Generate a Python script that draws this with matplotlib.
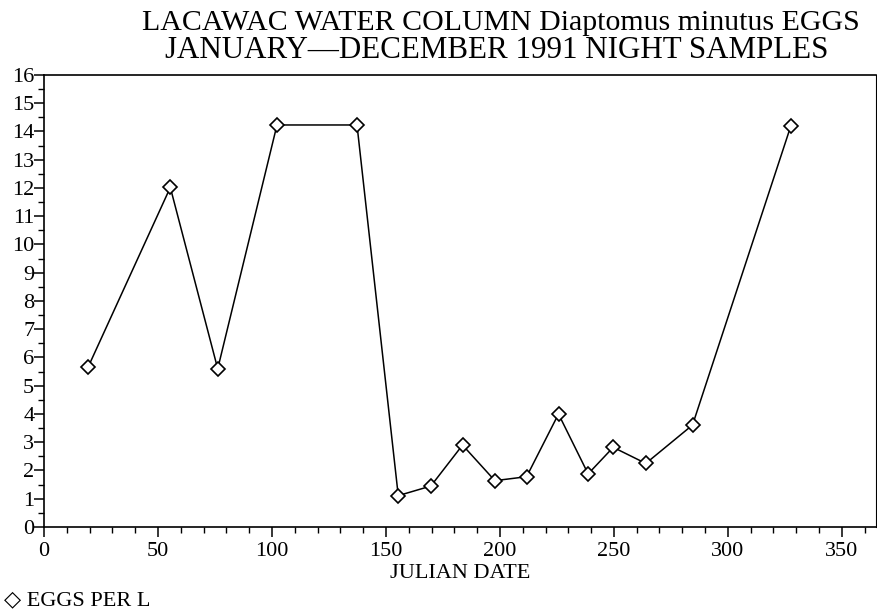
import matplotlib
matplotlib.use("Agg")
import matplotlib.pyplot as plt
from matplotlib.ticker import MultipleLocator

# Data
julian_date = [19.4, 55.4, 76.2, 102.2, 137.3, 155.4, 169.7, 183.6, 197.8,
               211.7, 225.7, 238.7, 249.7, 264.0, 284.5, 327.6]
eggs_per_l = [5.67, 12.02, 5.60, 14.23, 14.23, 1.11, 1.45, 2.90, 1.64,
              1.78, 4.00, 1.88, 2.82, 2.25, 3.61, 14.19]

title1 = "LACAWAC WATER COLUMN Diaptomus minutus EGGS"
title2 = "JANUARY\u2014DECEMBER 1991 NIGHT SAMPLES"
xlabel = "JULIAN DATE"
legend_label = "EGGS PER L"

plt.rcParams['font.family'] = ['Liberation Serif', 'DejaVu Sans']

fig = plt.figure(figsize=(8.77, 6.12), dpi=100)
ax = fig.add_axes([0.0502, 0.1389, 0.9487, 0.7386])

ax.plot(julian_date, eggs_per_l, color='black', linewidth=1.1,
        marker='D', markersize=7.5, markerfacecolor='white',
        markeredgecolor='black', markeredgewidth=1.2)

ax.set_xlim(0, 365)
ax.set_ylim(0, 16)
ax.xaxis.set_major_locator(MultipleLocator(50))
ax.xaxis.set_minor_locator(MultipleLocator(10))
ax.yaxis.set_major_locator(MultipleLocator(1))
ax.yaxis.set_minor_locator(MultipleLocator(0.5))

ax.tick_params(axis='both', which='major', direction='out', length=7,
               width=1.1, labelsize=16, colors='black')
ax.tick_params(axis='both', which='minor', direction='out', length=4,
               width=1.0)
ax.tick_params(axis='y', pad=0)
ax.tick_params(axis='x', pad=4)
for s in ax.spines.values():
    s.set_linewidth(1.2)
ax.spines['right'].set_linewidth(0.8)

ax.set_xlabel(xlabel, fontsize=16, labelpad=2)

fig.text(0.571, 0.962, title1, ha='center', va='center', fontsize=21.5)
fig.text(0.566, 0.917, title2, ha='center', va='center', fontsize=22.3)

fig.text(0.004, 0.019, "\u25C7 " + legend_label, ha='left', va='center',
         fontsize=16)

fig.savefig("out.png", dpi=100)
